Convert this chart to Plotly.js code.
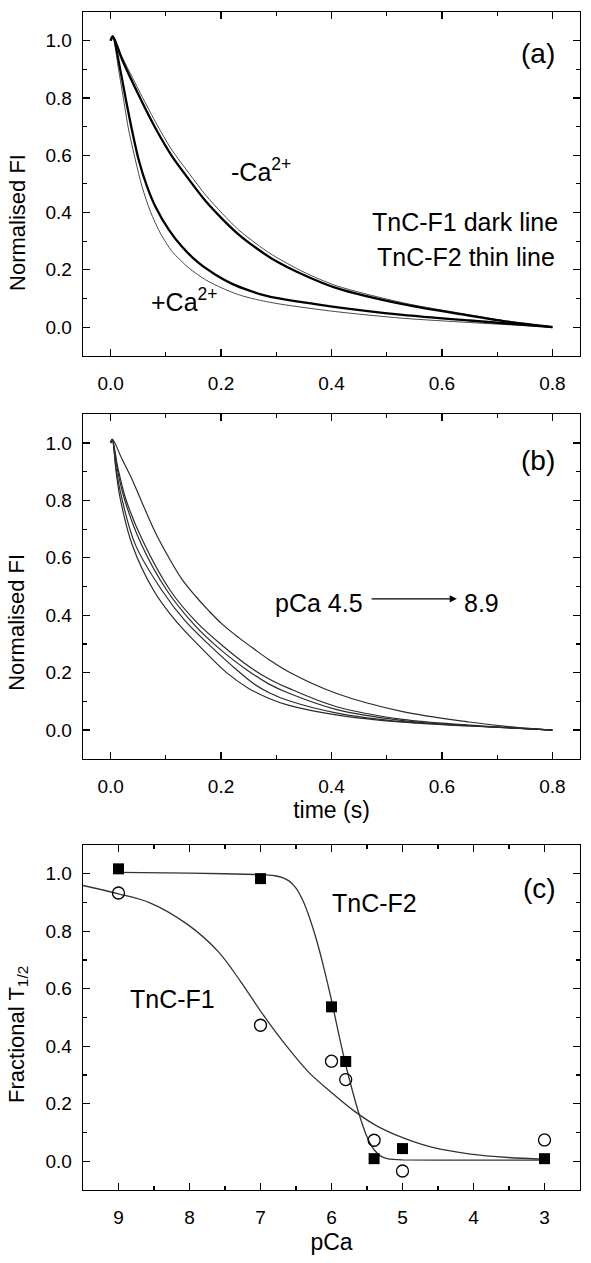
<!DOCTYPE html>
<html><head><meta charset="utf-8">
<script src="https://cdn.plot.ly/plotly-3.0.1.min.js"></script>
<style>html,body{margin:0;padding:0;background:#fff}</style>
</head><body><div id="chart" style="width:591px;height:1263px"></div>
<script>
// ---------- Panel (a): normalised fluorescence decays ----------
const aMinusCaF1_t = [0, 0.004, 0.0206, 0.0508, 0.081, 0.111, 0.142, 0.172, 0.202, 0.232, 0.263, 0.293, 0.35, 0.408, 0.529, 0.65, 0.722, 0.8];
const aMinusCaF1_v = [1.0, 1.015, 0.935, 0.81, 0.695, 0.597, 0.515, 0.44, 0.378, 0.323, 0.277, 0.238, 0.182, 0.137, 0.080, 0.040, 0.018, 0.0];
const aMinusCaF2_t = [0, 0.004, 0.0206, 0.0508, 0.081, 0.111, 0.142, 0.172, 0.202, 0.232, 0.263, 0.293, 0.35, 0.408, 0.529, 0.65, 0.722, 0.8];
const aMinusCaF2_v = [1.0, 1.015, 0.944, 0.828, 0.717, 0.618, 0.537, 0.461, 0.397, 0.339, 0.292, 0.252, 0.192, 0.145, 0.085, 0.043, 0.02, 0.0];
const aPlusCaF1_t = [0, 0.004, 0.0175, 0.0278, 0.0387, 0.0508, 0.0659, 0.081, 0.1053, 0.129, 0.160, 0.19, 0.2202, 0.2504, 0.2807, 0.305, 0.408, 0.529, 0.65, 0.8];
const aPlusCaF1_v = [1.0, 1.015, 0.898, 0.793, 0.688, 0.584, 0.491, 0.421, 0.340, 0.281, 0.223, 0.183, 0.151, 0.128, 0.110, 0.100, 0.070, 0.043, 0.023, 0.0];
const aPlusCaF2_t = [0, 0.004, 0.0145, 0.0236, 0.0327, 0.0448, 0.0568, 0.072, 0.090, 0.1113, 0.142, 0.172, 0.202, 0.232, 0.2625, 0.305, 0.408, 0.529, 0.65, 0.8];
const aPlusCaF2_v = [1.0, 1.015, 0.898, 0.793, 0.688, 0.584, 0.491, 0.404, 0.328, 0.264, 0.206, 0.165, 0.136, 0.113, 0.097, 0.081, 0.054, 0.031, 0.016, 0.0];

// ---------- Panel (b): decays, pCa 4.5 -> 8.9 ----------
const bCurveA_t = [0, 0.003, 0.01, 0.0175, 0.04, 0.078, 0.118, 0.16, 0.21, 0.25, 0.287, 0.323, 0.408, 0.529, 0.65, 0.72, 0.8];
const bCurveA_v = [1.0, 1.012, 0.90, 0.805, 0.64, 0.486, 0.38, 0.294, 0.20, 0.145, 0.11, 0.086, 0.053, 0.027, 0.014, 0.008, 0.0];
const bCurveB_t = [0, 0.003, 0.01, 0.0206, 0.045, 0.093, 0.135, 0.18, 0.225, 0.26, 0.287, 0.323, 0.408, 0.529, 0.65, 0.8];
const bCurveB_v = [1.0, 1.012, 0.91, 0.805, 0.645, 0.486, 0.38, 0.294, 0.215, 0.16, 0.13, 0.102, 0.06, 0.029, 0.015, 0.0];
const bCurveC_t = [0, 0.003, 0.012, 0.025, 0.055, 0.102, 0.15, 0.199, 0.25, 0.287, 0.323, 0.408, 0.529, 0.65, 0.8];
const bCurveC_v = [1.0, 1.012, 0.91, 0.805, 0.65, 0.486, 0.37, 0.28, 0.205, 0.16, 0.128, 0.072, 0.033, 0.015, 0.0];
const bCurveD_t = [0, 0.003, 0.013, 0.0275, 0.058, 0.108, 0.156, 0.205, 0.25, 0.287, 0.323, 0.408, 0.529, 0.65, 0.8];
const bCurveD_v = [1.0, 1.012, 0.915, 0.805, 0.66, 0.486, 0.375, 0.29, 0.222, 0.178, 0.145, 0.082, 0.037, 0.017, 0.0];
const bCurveE_t = [0, 0.003, 0.0206, 0.0387, 0.0568, 0.081, 0.1053, 0.129, 0.1536, 0.178, 0.202, 0.232, 0.26, 0.287, 0.323, 0.408, 0.529, 0.65, 0.72, 0.8];
const bCurveE_v = [1.0, 1.014, 0.944, 0.874, 0.793, 0.688, 0.601, 0.526, 0.467, 0.415, 0.369, 0.322, 0.282, 0.245, 0.202, 0.128, 0.064, 0.028, 0.012, 0.0];

// ---------- Panel (c): fractional T1/2 vs pCa ----------
const cPca = [9, 7, 6, 5.8, 5.4, 5, 3];
const cF2Points = [1.017, 0.983, 0.537, 0.347, 0.009, 0.044, 0.009];
const cF1Points = [0.933, 0.473, 0.348, 0.284, 0.073, -0.034, 0.074];
const cF2FitPca = [9.0, 8.0, 7.0, 6.8, 6.7, 6.6, 6.5, 6.4, 6.3, 6.2, 6.1, 6.0, 5.9, 5.8, 5.7, 5.6, 5.5, 5.4, 5.3, 5.2, 5.0, 4.0, 3.0];
const cF2FitVal = [1.005, 1.002, 0.997, 0.993, 0.987, 0.975, 0.95, 0.905, 0.84, 0.76, 0.665, 0.56, 0.445, 0.335, 0.24, 0.155, 0.085, 0.04, 0.017, 0.008, 0.005, 0.004, 0.004];
const cF1FitPca = [9.5, 9.0, 8.549, 8.019, 7.595, 7.277, 6.959, 6.641, 6.323, 6.005, 5.688, 5.370, 4.998, 4.575, 4.044, 3.514, 3.0];
const cF1FitVal = [0.959, 0.930, 0.898, 0.822, 0.729, 0.624, 0.508, 0.403, 0.310, 0.240, 0.176, 0.124, 0.082, 0.048, 0.025, 0.013, 0.007];

const FONT = 'Liberation Sans, Arial, Helvetica, sans-serif';
const thick = {color: '#000', width: 2.3, shape: 'spline', smoothing: 0.8};
const thin = {color: '#4a4a4a', width: 1.0, shape: 'spline', smoothing: 0.8};
const bLine = {color: '#2b2b2b', width: 1.2, shape: 'spline', smoothing: 1.0};
const fitLine2 = {color: '#333', width: 1.3, shape: 'spline', smoothing: 0.5};
const fitLine1 = {color: '#333', width: 1.3, shape: 'spline', smoothing: 1.0};

function ln(x, y, line, xa, ya) {
  return {x: x, y: y, mode: 'lines', line: line, xaxis: xa, yaxis: ya, hoverinfo: 'skip'};
}

const traces = [
  ln(aMinusCaF2_t, aMinusCaF2_v, thin, 'x', 'y'),
  ln(aPlusCaF2_t, aPlusCaF2_v, thin, 'x', 'y'),
  ln(aMinusCaF1_t, aMinusCaF1_v, thick, 'x', 'y'),
  ln(aPlusCaF1_t, aPlusCaF1_v, thick, 'x', 'y'),
  ln(bCurveA_t, bCurveA_v, bLine, 'x2', 'y2'),
  ln(bCurveB_t, bCurveB_v, bLine, 'x2', 'y2'),
  ln(bCurveC_t, bCurveC_v, bLine, 'x2', 'y2'),
  ln(bCurveD_t, bCurveD_v, bLine, 'x2', 'y2'),
  ln(bCurveE_t, bCurveE_v, bLine, 'x2', 'y2'),
  ln(cF1FitPca, cF1FitVal, fitLine1, 'x3', 'y3'),
  ln(cF2FitPca, cF2FitVal, fitLine2, 'x3', 'y3'),
  {x: cPca, y: cF1Points, mode: 'markers', xaxis: 'x3', yaxis: 'y3', cliponaxis: false,
   marker: {symbol: 'circle', size: 12, color: 'rgba(255,255,255,0)', line: {color: '#000', width: 1.3}}},
  {x: cPca, y: cF2Points, mode: 'markers', xaxis: 'x3', yaxis: 'y3', cliponaxis: false,
   marker: {symbol: 'square', size: 11, color: '#000', line: {width: 0}}}
];

function ax(extra) {
  return Object.assign({
    showline: true, linecolor: '#000', linewidth: 1.3, mirror: 'ticks',
    ticks: 'inside', ticklen: 7, tickwidth: 1.2, tickcolor: '#000',
    showgrid: false, zeroline: false, fixedrange: true,
    tickfont: {family: FONT, size: 19, color: '#000'}
  }, extra);
}
function minor(d) { return {dtick: d, ticks: 'inside', ticklen: 4, tickwidth: 1.2, tickcolor: '#000', showgrid: false}; }
const titleFont = {family: FONT, size: 23, color: '#000'};
const ytFont = {family: FONT, size: 22, color: '#000'};
const txt = {family: FONT, size: 25, color: '#000'};
const letter = {family: FONT, size: 28, color: '#000'};

const layout = {
  width: 591, height: 1263,
  margin: {l: 83, r: 11, t: 12, b: 73},
  paper_bgcolor: '#fff', plot_bgcolor: '#fff',
  showlegend: false,
  font: {family: FONT, color: '#000'},
  xaxis: ax({domain: [0, 1], anchor: 'y', range: [-0.05, 0.85], tick0: 0, dtick: 0.2, tickformat: '.1f', minor: minor(0.1), ticklabelstandoff: 10}),
  yaxis: ax({domain: [0.7082, 1], anchor: 'x', range: [-0.1, 1.1], tick0: 0, dtick: 0.2, tickformat: '.1f', minor: minor(0.1), ticklabelstandoff: 6}),
  xaxis2: ax({domain: [0, 1], anchor: 'y2', range: [-0.05, 0.85], tick0: 0, dtick: 0.2, tickformat: '.1f', minor: minor(0.1), ticklabelstandoff: 10,
    title: {text: 'time (s)', font: titleFont, standoff: 5}}),
  yaxis2: ax({domain: [0.3661, 0.6585], anchor: 'x2', range: [-0.1, 1.1], tick0: 0, dtick: 0.2, tickformat: '.1f', minor: minor(0.1), ticklabelstandoff: 6}),
  xaxis3: ax({domain: [0, 1], anchor: 'y3', range: [9.5, 2.5], tick0: 0, dtick: 1, tickformat: 'd', minor: minor(0.5), ticklabelstandoff: 10,
    title: {text: 'pCa', font: titleFont, standoff: 6}}),
  yaxis3: ax({domain: [0, 0.2929], anchor: 'x3', range: [-0.1, 1.1], tick0: 0, dtick: 0.2, tickformat: '.1f', minor: minor(0.1), ticklabelstandoff: 6}),
  annotations: [
    {xref: 'paper', yref: 'paper', x: -0.133, y: 0.8217, text: 'Normalised FI', textangle: -90, showarrow: false, xanchor: 'center', yanchor: 'middle', font: ytFont},
    {xref: 'paper', yref: 'paper', x: -0.133, y: 0.4822, text: 'Normalised FI', textangle: -90, showarrow: false, xanchor: 'center', yanchor: 'middle', font: ytFont},
    {xref: 'paper', yref: 'paper', x: -0.131, y: 0.1324, text: 'Fractional T<sub>1/2</sub>', textangle: -90, showarrow: false, xanchor: 'center', yanchor: 'middle', font: ytFont},
    {xref: 'x', yref: 'y', x: 0.774, y: 0.956, text: '(a)', showarrow: false, font: letter},
    {xref: 'x', yref: 'y', x: 0.272, y: 0.55, text: '-Ca<sup>2+</sup>', showarrow: false, font: txt},
    {xref: 'x', yref: 'y', x: 0.133, y: 0.093, text: '+Ca<sup>2+</sup>', showarrow: false, font: txt},
    {xref: 'x', yref: 'y', x: 0.6425, y: 0.368, text: 'TnC-F1 dark line', showarrow: false, font: txt},
    {xref: 'x', yref: 'y', x: 0.644, y: 0.246, text: 'TnC-F2 thin line', showarrow: false, font: txt},
    {xref: 'x2', yref: 'y2', x: 0.774, y: 0.94, text: '(b)', showarrow: false, font: letter},
    {xref: 'x2', yref: 'y2', x: 0.3775, y: 0.442, text: 'pCa 4.5', showarrow: false, font: txt},
    {xref: 'x2', yref: 'y2', x: 0.6715, y: 0.442, text: '8.9', showarrow: false, font: txt},
    {xref: 'x2', yref: 'y2', axref: 'x2', ayref: 'y2', x: 0.627, y: 0.457, ax: 0.47, ay: 0.457, text: '',
     showarrow: true, arrowhead: 2, arrowsize: 1.1, arrowwidth: 1.3, arrowcolor: '#000'},
    {xref: 'x3', yref: 'y3', x: 3.064, y: 0.95, text: '(c)', showarrow: false, font: letter},
    {xref: 'x3', yref: 'y3', x: 5.395, y: 0.898, text: 'TnC-F2', showarrow: false, font: txt},
    {xref: 'x3', yref: 'y3', x: 8.243, y: 0.566, text: 'TnC-F1', showarrow: false, font: txt}
  ]
};

Plotly.newPlot('chart', traces, layout, {staticPlot: true, displayModeBar: false});
</script></body></html>
